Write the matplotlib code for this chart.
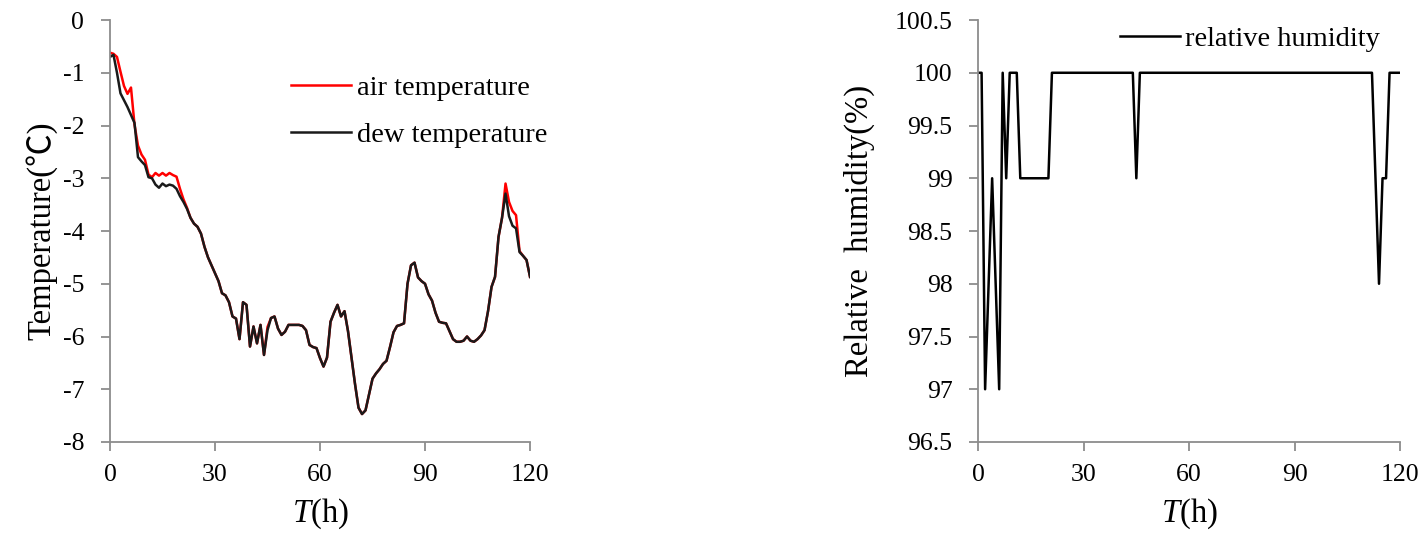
import numpy as np
import matplotlib
matplotlib.use('Agg')
import matplotlib.pyplot as plt
from matplotlib.ticker import FuncFormatter

# フォント設定（Times 風）
plt.rcParams['font.family'] = ['Liberation Serif', 'Noto Sans CJK SC', 'DejaVu Sans']
plt.rcParams['mathtext.fontset'] = 'custom'
plt.rcParams['mathtext.it'] = 'Liberation Serif:italic'
plt.rcParams['mathtext.rm'] = 'Liberation Serif'
plt.rcParams['axes.unicode_minus'] = False

# 時刻 (h)
hours = list(range(0, 121))

# 気温 (℃)
air_temp = [
    -0.62, -0.64, -0.70, -0.98, -1.25, -1.40, -1.28, -1.98, -2.38, -2.55,
    -2.65, -2.93, -2.98, -2.90, -2.95, -2.90, -2.95, -2.90, -2.94, -2.97,
    -3.20, -3.40, -3.56, -3.75, -3.86, -3.92, -4.05, -4.30, -4.50, -4.65,
    -4.80, -4.95, -5.18, -5.22, -5.35, -5.62, -5.66, -6.05, -5.35, -5.40,
    -6.19, -5.81, -6.13, -5.78, -6.35, -5.82, -5.65, -5.62, -5.85, -5.97,
    -5.91, -5.78, -5.78, -5.78, -5.78, -5.80, -5.88, -6.16, -6.20, -6.22,
    -6.41, -6.57, -6.40, -5.72, -5.55, -5.40, -5.62, -5.52, -5.90, -6.40,
    -6.90, -7.35, -7.47, -7.40, -7.10, -6.80, -6.70, -6.62, -6.52, -6.46,
    -6.20, -5.92, -5.80, -5.78, -5.75, -5.00, -4.65, -4.60, -4.88, -4.95,
    -5.00, -5.20, -5.32, -5.55, -5.72, -5.74, -5.75, -5.90, -6.05, -6.10,
    -6.10, -6.08, -6.00, -6.08, -6.10, -6.05, -5.98, -5.88, -5.52, -5.06,
    -4.87, -4.11, -3.75, -3.10, -3.45, -3.62, -3.70, -4.38, -4.47, -4.55,
    -4.87,
]

# 露点温度 (℃)
dew_temp = [
    -0.70, -0.66, -1.00, -1.39, -1.52, -1.65, -1.80, -1.95, -2.60, -2.68,
    -2.75, -2.98, -3.00, -3.12, -3.18, -3.10, -3.15, -3.12, -3.14, -3.20,
    -3.34, -3.45, -3.58, -3.75, -3.86, -3.92, -4.05, -4.30, -4.50, -4.65,
    -4.80, -4.95, -5.18, -5.22, -5.35, -5.62, -5.66, -6.05, -5.35, -5.40,
    -6.19, -5.81, -6.13, -5.78, -6.35, -5.88, -5.65, -5.62, -5.85, -5.97,
    -5.91, -5.78, -5.78, -5.78, -5.78, -5.80, -5.88, -6.16, -6.20, -6.22,
    -6.41, -6.57, -6.40, -5.72, -5.55, -5.40, -5.62, -5.52, -5.90, -6.40,
    -6.90, -7.35, -7.47, -7.40, -7.10, -6.80, -6.70, -6.62, -6.52, -6.46,
    -6.20, -5.92, -5.80, -5.78, -5.75, -5.00, -4.65, -4.60, -4.88, -4.95,
    -5.00, -5.20, -5.32, -5.55, -5.72, -5.74, -5.75, -5.90, -6.05, -6.10,
    -6.10, -6.08, -6.00, -6.08, -6.10, -6.05, -5.98, -5.88, -5.52, -5.06,
    -4.87, -4.11, -3.75, -3.29, -3.72, -3.90, -3.95, -4.40, -4.47, -4.55,
    -4.87,
]

# 相対湿度 (%)
rel_hum = [
    100, 100, 97, 98, 99, 98, 97, 100, 99, 100,
    100, 100, 99, 99, 99, 99, 99, 99, 99, 99,
    99, 100, 100, 100, 100, 100, 100, 100, 100, 100,
    100, 100, 100, 100, 100, 100, 100, 100, 100, 100,
    100, 100, 100, 100, 100, 99, 100, 100, 100, 100,
    100, 100, 100, 100, 100, 100, 100, 100, 100, 100,
    100, 100, 100, 100, 100, 100, 100, 100, 100, 100,
    100, 100, 100, 100, 100, 100, 100, 100, 100, 100,
    100, 100, 100, 100, 100, 100, 100, 100, 100, 100,
    100, 100, 100, 100, 100, 100, 100, 100, 100, 100,
    100, 100, 100, 100, 100, 100, 100, 100, 100, 100,
    100, 100, 100, 99, 98, 99, 99, 100, 100, 100,
    100,
]

x_ticks = [0, 30, 60, 90, 120]
temp_ticks = [0, -1, -2, -3, -4, -5, -6, -7, -8]
rh_ticks = [96.5, 97, 97.5, 98, 98.5, 99, 99.5, 100, 100.5]

AXIS_COLOR = '#8c8c8c'
TICK_FS = 18.5
LABEL_FS = 23.5
LEGEND_FS = 20.5


def style_axes(ax):
    for side in ['top', 'right']:
        ax.spines[side].set_visible(False)
    for side in ['left', 'bottom']:
        ax.spines[side].set_color(AXIS_COLOR)
        ax.spines[side].set_linewidth(1.3)
    ax.tick_params(direction='out', length=6.5, width=1.3, color=AXIS_COLOR,
                   labelsize=TICK_FS, labelcolor='black')
    ax.tick_params(axis='x', pad=9)
    ax.tick_params(axis='y', pad=12)
    ax.set_xlim(0, 120)
    ax.set_xticks(x_ticks)
    ax.set_xlabel('$T$(h)', fontsize=LABEL_FS, labelpad=8)


fig = plt.figure(figsize=(14.21, 5.44), dpi=100)
ax1 = fig.add_axes([0.0774, 0.1875, 0.2956, 0.7757])
ax2 = fig.add_axes([0.6883, 0.1875, 0.2970, 0.7757])

# 左：気温と露点温度
ax1.plot(hours, air_temp, color='#ff0000', linewidth=1.8, label='air temperature')
ax1.plot(hours, dew_temp, color='#1a1a1a', linewidth=1.8, label='dew temperature')
style_axes(ax1)
ax1.set_ylim(-8, 0)
ax1.set_yticks(temp_ticks)
ax1.set_ylabel('Temperature(℃)', fontsize=LABEL_FS, labelpad=4)
ax1.legend(loc='upper left', bbox_to_anchor=(0.432, 0.870), frameon=False,
           fontsize=LEGEND_FS, handlelength=2.1, handletextpad=0.2,
           labelspacing=0.76, borderpad=0, borderaxespad=0)

# 右：相対湿度
ax2.plot(hours, rel_hum, color='black', linewidth=1.8, label='relative humidity')
style_axes(ax2)
ax2.set_ylim(96.5, 100.5)
ax2.set_yticks(rh_ticks)
ax2.yaxis.set_major_formatter(FuncFormatter(lambda v, p: f'{v:g}'))
ax2.set_ylabel('Relative  humidity(%)', fontsize=LABEL_FS, labelpad=14)
ax2.legend(loc='upper left', bbox_to_anchor=(0.336, 0.986), frameon=False,
           fontsize=LEGEND_FS, handlelength=2.1, handletextpad=0.2,
           borderpad=0, borderaxespad=0)

fig.savefig('out.png', dpi=100)
